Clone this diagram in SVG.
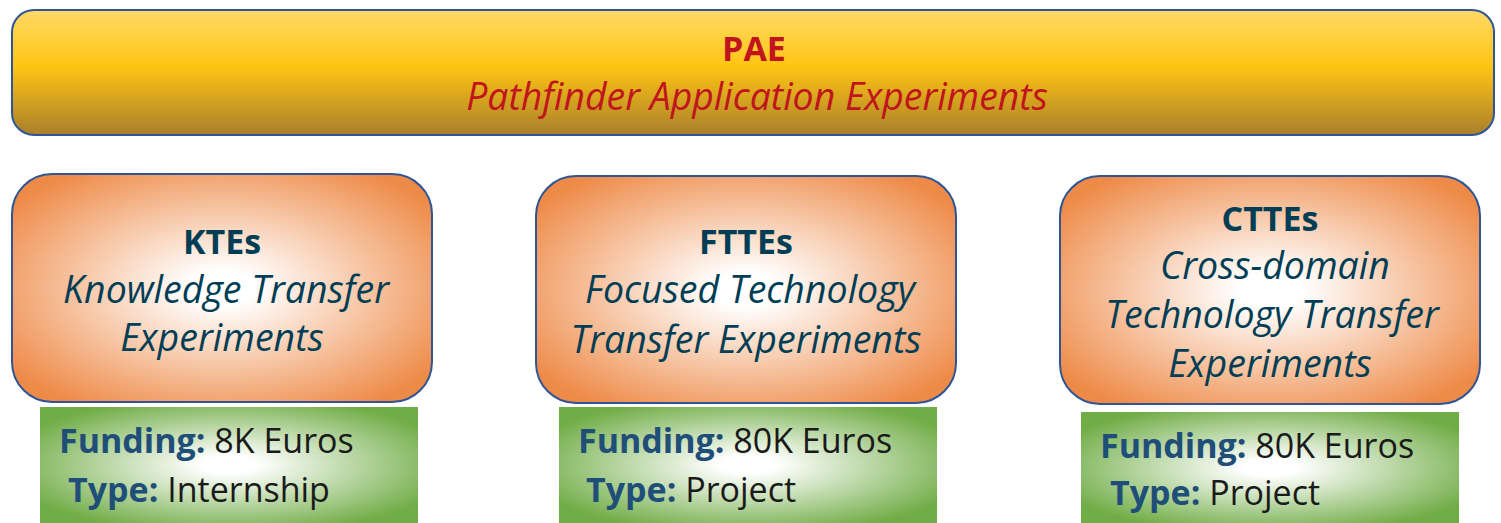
<svg xmlns="http://www.w3.org/2000/svg" width="1501" height="523" viewBox="0 0 1501 523">
<defs>
<linearGradient id="gold" x1="0" y1="0" x2="0" y2="1">
<stop offset="0" stop-color="#FFD966"/>
<stop offset="0.45" stop-color="#FFC513"/>
<stop offset="1" stop-color="#A97F2C"/>
</linearGradient>
<radialGradient id="orange" cx="0.5" cy="0.5" r="0.62">
<stop offset="0.12" stop-color="#FFFFFF"/>
<stop offset="1" stop-color="#EE8A47"/>
</radialGradient>
<radialGradient id="green" cx="0.5" cy="0.5" r="0.6">
<stop offset="0.12" stop-color="#FFFFFF"/>
<stop offset="1" stop-color="#71AD47"/>
</radialGradient>
<style>
.frame{stroke:#2F5597;stroke-width:2}
.t{font-family:"Open Sans",Lato,sans-serif;text-anchor:middle;fill:#013E55}
.h{font-weight:bold;font-size:34px}
.i{font-style:italic;font-size:37.5px}
.f{font-family:"Open Sans",Lato,sans-serif;font-size:34px;fill:#1A1A1A}
.lab{font-weight:bold;fill:#1F4E79}
</style>
</defs>
<g id="pae">
<rect class="frame" x="12" y="10" width="1482" height="125" rx="22" fill="url(#gold)"/>
<text x="754" y="61" font-family="'Open Sans',Lato,sans-serif" font-size="34" font-weight="bold" fill="#C0151D" text-anchor="middle">PAE</text>
<text x="757" y="110" font-family="'Open Sans',Lato,sans-serif" font-size="37.4" font-style="italic" fill="#C0151D" text-anchor="middle">Pathfinder Application Experiments</text>
</g>
<g id="ktes">
<rect class="frame" x="12" y="174" width="420" height="228" rx="40" fill="url(#orange)"/>
<text class="t h" x="222" y="254">KTEs</text>
<text class="t i" x="226" y="303">Knowledge Transfer</text>
<text class="t i" x="222" y="351">Experiments</text>
</g>
<g id="ktes-info">
<rect x="40" y="407" width="378" height="116" fill="url(#green)"/>
<text class="f" x="59" y="453"><tspan class="lab">Funding:</tspan> 8K Euros</text>
<text class="f" x="68" y="502"><tspan class="lab">Type:</tspan> Internship</text>
</g>
<g id="fttes">
<rect class="frame" x="536" y="176" width="420" height="227" rx="40" fill="url(#orange)"/>
<text class="t h" x="746" y="254">FTTEs</text>
<text class="t i" x="750" y="303">Focused Technology</text>
<text class="t i" x="746" y="353">Transfer Experiments</text>
</g>
<g id="fttes-info">
<rect x="559" y="407" width="378" height="116" fill="url(#green)"/>
<text class="f" x="578" y="453"><tspan class="lab">Funding:</tspan> 80K Euros</text>
<text class="f" x="586" y="502"><tspan class="lab">Type:</tspan> Project</text>
</g>
<g id="cttes">
<rect class="frame" x="1060" y="176" width="420" height="228" rx="40" fill="url(#orange)"/>
<text class="t h" x="1270" y="231">CTTEs</text>
<text class="t i" x="1275" y="279">Cross-domain</text>
<text class="t i" x="1272" y="328">Technology Transfer</text>
<text class="t i" x="1270" y="377">Experiments</text>
</g>
<g id="cttes-info">
<rect x="1081" y="412" width="378" height="111" fill="url(#green)"/>
<text class="f" x="1100" y="458"><tspan class="lab">Funding:</tspan> 80K Euros</text>
<text class="f" x="1110" y="505"><tspan class="lab">Type:</tspan> Project</text>
</g>
<g id="connectors"/>
</svg>
